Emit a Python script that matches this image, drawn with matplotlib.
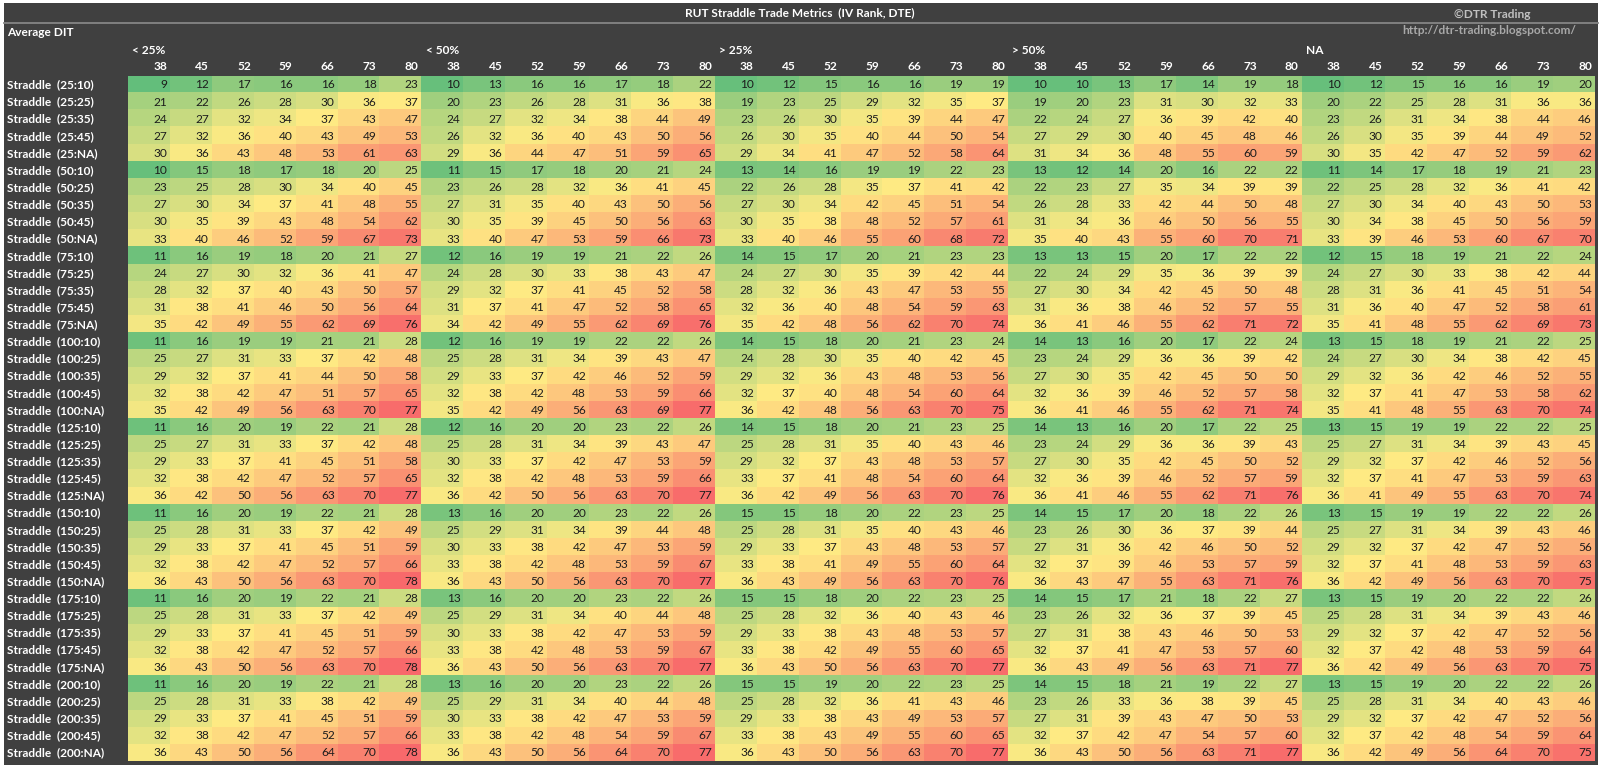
import numpy as np
import matplotlib.pyplot as plt
from matplotlib.colors import LinearSegmentedColormap, TwoSlopeNorm
from matplotlib.patches import Rectangle
from matplotlib.lines import Line2D
import matplotlib.transforms as mtransforms

plt.rcParams['font.family'] = ['Lato', 'DejaVu Sans']

# ---- data -------------------------------------------------------------
iv_groups = ['< 25%', '< 50%', '> 25%', '> 50%', 'NA']
dte = [38, 45, 52, 59, 66, 73, 80]
row_labels = [f'Straddle  ({a}:{b})' for a in [25, 50, 75, 100, 125, 150, 175, 200]
              for b in ['10', '25', '35', '45', 'NA']]

lt25 = [
    [9, 12, 17, 16, 16, 18, 23], [21, 22, 26, 28, 30, 36, 37], [24, 27, 32, 34, 37, 43, 47],
    [27, 32, 36, 40, 43, 49, 53], [30, 36, 43, 48, 53, 61, 63],
    [10, 15, 18, 17, 18, 20, 25], [23, 25, 28, 30, 34, 40, 45], [27, 30, 34, 37, 41, 48, 55],
    [30, 35, 39, 43, 48, 54, 62], [33, 40, 46, 52, 59, 67, 73],
    [11, 16, 19, 18, 20, 21, 27], [24, 27, 30, 32, 36, 41, 47], [28, 32, 37, 40, 43, 50, 57],
    [31, 38, 41, 46, 50, 56, 64], [35, 42, 49, 55, 62, 69, 76],
    [11, 16, 19, 19, 21, 21, 28], [25, 27, 31, 33, 37, 42, 48], [29, 32, 37, 41, 44, 50, 58],
    [32, 38, 42, 47, 51, 57, 65], [35, 42, 49, 56, 63, 70, 77],
    [11, 16, 20, 19, 22, 21, 28], [25, 27, 31, 33, 37, 42, 48], [29, 33, 37, 41, 45, 51, 58],
    [32, 38, 42, 47, 52, 57, 65], [36, 42, 50, 56, 63, 70, 77],
    [11, 16, 20, 19, 22, 21, 28], [25, 28, 31, 33, 37, 42, 49], [29, 33, 37, 41, 45, 51, 59],
    [32, 38, 42, 47, 52, 57, 66], [36, 43, 50, 56, 63, 70, 78],
    [11, 16, 20, 19, 22, 21, 28], [25, 28, 31, 33, 37, 42, 49], [29, 33, 37, 41, 45, 51, 59],
    [32, 38, 42, 47, 52, 57, 66], [36, 43, 50, 56, 63, 70, 78],
    [11, 16, 20, 19, 22, 21, 28], [25, 28, 31, 33, 38, 42, 49], [29, 33, 37, 41, 45, 51, 59],
    [32, 38, 42, 47, 52, 57, 66], [36, 43, 50, 56, 64, 70, 78],
]

lt50 = [
    [10, 13, 16, 16, 17, 18, 22], [20, 23, 26, 28, 31, 36, 38], [24, 27, 32, 34, 38, 44, 49],
    [26, 32, 36, 40, 43, 50, 56], [29, 36, 44, 47, 51, 59, 65],
    [11, 15, 17, 18, 20, 21, 24], [23, 26, 28, 32, 36, 41, 45], [27, 31, 35, 40, 43, 50, 56],
    [30, 35, 39, 45, 50, 56, 63], [33, 40, 47, 53, 59, 66, 73],
    [12, 16, 19, 19, 21, 22, 26], [24, 28, 30, 33, 38, 43, 47], [29, 32, 37, 41, 45, 52, 58],
    [31, 37, 41, 47, 52, 58, 65], [34, 42, 49, 55, 62, 69, 76],
    [12, 16, 19, 19, 22, 22, 26], [25, 28, 31, 34, 39, 43, 47], [29, 33, 37, 42, 46, 52, 59],
    [32, 38, 42, 48, 53, 59, 66], [35, 42, 49, 56, 63, 69, 77],
    [12, 16, 20, 20, 23, 22, 26], [25, 28, 31, 34, 39, 43, 47], [30, 33, 37, 42, 47, 53, 59],
    [32, 38, 42, 48, 53, 59, 66], [36, 42, 50, 56, 63, 70, 77],
    [13, 16, 20, 20, 23, 22, 26], [25, 29, 31, 34, 39, 44, 48], [30, 33, 38, 42, 47, 53, 59],
    [33, 38, 42, 48, 53, 59, 67], [36, 43, 50, 56, 63, 70, 77],
    [13, 16, 20, 20, 23, 22, 26], [25, 29, 31, 34, 40, 44, 48], [30, 33, 38, 42, 47, 53, 59],
    [33, 38, 42, 48, 53, 59, 67], [36, 43, 50, 56, 63, 70, 77],
    [13, 16, 20, 20, 23, 22, 26], [25, 29, 31, 34, 40, 44, 48], [30, 33, 38, 42, 47, 53, 59],
    [33, 38, 42, 48, 54, 59, 67], [36, 43, 50, 56, 64, 70, 77],
]

gt25 = [
    [10, 12, 15, 16, 16, 19, 19], [19, 23, 25, 29, 32, 35, 37], [23, 26, 30, 35, 39, 44, 47],
    [26, 30, 35, 40, 44, 50, 54], [29, 34, 41, 47, 52, 58, 64],
    [13, 14, 16, 19, 19, 22, 23], [22, 26, 28, 35, 37, 41, 42], [27, 30, 34, 42, 45, 51, 54],
    [30, 35, 38, 48, 52, 57, 61], [33, 40, 46, 55, 60, 68, 72],
    [14, 15, 17, 20, 21, 23, 23], [24, 27, 30, 35, 39, 42, 44], [28, 32, 36, 43, 47, 53, 55],
    [32, 36, 40, 48, 54, 59, 63], [35, 42, 48, 56, 62, 70, 74],
    [14, 15, 18, 20, 21, 23, 24], [24, 28, 30, 35, 40, 42, 45], [29, 32, 36, 43, 48, 53, 56],
    [32, 37, 40, 48, 54, 60, 64], [36, 42, 48, 56, 63, 70, 75],
    [14, 15, 18, 20, 21, 23, 25], [25, 28, 31, 35, 40, 43, 46], [29, 32, 37, 43, 48, 53, 57],
    [33, 37, 41, 48, 54, 60, 64], [36, 42, 49, 56, 63, 70, 76],
    [15, 15, 18, 20, 22, 23, 25], [25, 28, 31, 35, 40, 43, 46], [29, 33, 37, 43, 48, 53, 57],
    [33, 38, 41, 49, 55, 60, 64], [36, 43, 49, 56, 63, 70, 76],
    [15, 15, 18, 20, 22, 23, 25], [25, 28, 32, 36, 40, 43, 46], [29, 33, 38, 43, 48, 53, 57],
    [33, 38, 42, 49, 55, 60, 65], [36, 43, 50, 56, 63, 70, 77],
    [15, 15, 19, 20, 22, 23, 25], [25, 28, 32, 36, 41, 43, 46], [29, 33, 38, 43, 49, 53, 57],
    [33, 38, 43, 49, 55, 60, 65], [36, 43, 50, 56, 63, 70, 77],
]

gt50 = [
    [10, 10, 13, 17, 14, 19, 18], [19, 20, 23, 31, 30, 32, 33], [22, 24, 27, 36, 39, 42, 40],
    [27, 29, 30, 40, 45, 48, 46], [31, 34, 36, 48, 55, 60, 59],
    [13, 12, 14, 20, 16, 22, 22], [22, 23, 27, 35, 34, 39, 39], [26, 28, 33, 42, 44, 50, 48],
    [31, 34, 36, 46, 50, 56, 55], [35, 40, 43, 55, 60, 70, 71],
    [13, 13, 15, 20, 17, 22, 22], [22, 24, 29, 35, 36, 39, 39], [27, 30, 34, 42, 45, 50, 48],
    [31, 36, 38, 46, 52, 57, 55], [36, 41, 46, 55, 62, 71, 72],
    [14, 13, 16, 20, 17, 22, 24], [23, 24, 29, 36, 36, 39, 42], [27, 30, 35, 42, 45, 50, 50],
    [32, 36, 39, 46, 52, 57, 58], [36, 41, 46, 55, 62, 71, 74],
    [14, 13, 16, 20, 17, 22, 25], [23, 24, 29, 36, 36, 39, 43], [27, 30, 35, 42, 45, 50, 52],
    [32, 36, 39, 46, 52, 57, 59], [36, 41, 46, 55, 62, 71, 76],
    [14, 15, 17, 20, 18, 22, 26], [23, 26, 30, 36, 37, 39, 44], [27, 31, 36, 42, 46, 50, 52],
    [32, 37, 39, 46, 53, 57, 59], [36, 43, 47, 55, 63, 71, 76],
    [14, 15, 17, 21, 18, 22, 27], [23, 26, 32, 36, 37, 39, 45], [27, 31, 38, 43, 46, 50, 53],
    [32, 37, 41, 47, 53, 57, 60], [36, 43, 49, 56, 63, 71, 77],
    [14, 15, 18, 21, 19, 22, 27], [23, 26, 33, 36, 38, 39, 45], [27, 31, 39, 43, 47, 50, 53],
    [32, 37, 42, 47, 54, 57, 60], [36, 43, 50, 56, 63, 71, 77],
]

na_rank = [
    [10, 12, 15, 16, 16, 19, 20], [20, 22, 25, 28, 31, 36, 36], [23, 26, 31, 34, 38, 44, 46],
    [26, 30, 35, 39, 44, 49, 52], [30, 35, 42, 47, 52, 59, 62],
    [11, 14, 17, 18, 19, 21, 23], [22, 25, 28, 32, 36, 41, 42], [27, 30, 34, 40, 43, 50, 53],
    [30, 34, 38, 45, 50, 56, 59], [33, 39, 46, 53, 60, 67, 70],
    [12, 15, 18, 19, 21, 22, 24], [24, 27, 30, 33, 38, 42, 44], [28, 31, 36, 41, 45, 51, 54],
    [31, 36, 40, 47, 52, 58, 61], [35, 41, 48, 55, 62, 69, 73],
    [13, 15, 18, 19, 21, 22, 25], [24, 27, 30, 34, 38, 42, 45], [29, 32, 36, 42, 46, 52, 55],
    [32, 37, 41, 47, 53, 58, 62], [35, 41, 48, 55, 63, 70, 74],
    [13, 15, 19, 19, 22, 22, 25], [25, 27, 31, 34, 39, 43, 45], [29, 32, 37, 42, 46, 52, 56],
    [32, 37, 41, 47, 53, 59, 63], [36, 41, 49, 55, 63, 70, 74],
    [13, 15, 19, 19, 22, 22, 26], [25, 27, 31, 34, 39, 43, 46], [29, 32, 37, 42, 47, 52, 56],
    [32, 37, 41, 48, 53, 59, 63], [36, 42, 49, 56, 63, 70, 75],
    [13, 15, 19, 20, 22, 22, 26], [25, 28, 31, 34, 39, 43, 46], [29, 32, 37, 42, 47, 52, 56],
    [32, 37, 42, 48, 53, 59, 64], [36, 42, 49, 56, 63, 70, 75],
    [13, 15, 19, 20, 22, 22, 26], [25, 28, 31, 34, 40, 43, 46], [29, 32, 37, 42, 47, 52, 56],
    [32, 37, 42, 48, 54, 59, 64], [36, 42, 49, 56, 64, 70, 75],
]

# ---- layout helpers (pixel -> figure fraction) -----------------------
W, H = 1600, 765
def fx(x):
    return x / W
def fy(y):
    return 1 - y / H

BG = '#404040'
FS = 8.6
data = np.hstack([np.array(g) for g in [lt25, lt50, gt25, gt50, na_rank]])
n_rows, n_cols = data.shape

fig = plt.figure(figsize=(W / 100, H / 100), dpi=100, facecolor='white')
fig.patches.append(Rectangle((fx(4), 0), fx(1598) - fx(4), fy(3), transform=fig.transFigure,
                             facecolor=BG, edgecolor='none', zorder=-10))
fig.lines.append(Line2D([fx(4), fx(1598)], [fy(22.5), fy(22.5)], transform=fig.transFigure,
                        color='#858585', lw=1.3, zorder=-5))

# excel style 3-colour scale: green - yellow (median) - red
cmap = LinearSegmentedColormap.from_list('excel', ['#63BE7B', '#FFEB84', '#F8696B'])
norm = TwoSlopeNorm(vmin=data.min(), vcenter=np.percentile(data, 50), vmax=data.max())

top, bottom = 75.5, 760.6
ax = fig.add_axes([fx(128), fy(bottom), fx(1595) - fx(128), (bottom - top) / H])
ax.set_zorder(5)
ax.imshow(data, cmap=cmap, norm=norm, aspect='auto', interpolation='nearest')
ax.axis('off')

for i in range(n_rows):
    for j in range(n_cols):
        ax.text(j + 0.43, i + 0.05, str(data[i, j]), ha='right', va='center',
                fontsize=FS, color='#1c1c1c')

# column headers
for j in range(n_cols):
    ax.text(j + 0.43, -1.0, str(dte[j % len(dte)]), ha='right', va='center',
            fontsize=FS, color='white', fontweight='bold', clip_on=False)
for g, name in enumerate(iv_groups):
    ax.text(g * len(dte) - 0.4, -1.98, name, ha='left', va='center',
            fontsize=FS, color='white', fontweight='bold', clip_on=False)

# row labels
trans = mtransforms.blended_transform_factory(fig.transFigure, ax.transData)
for i, lab in enumerate(row_labels):
    ax.text(fx(7), i + 0.05, lab, transform=trans, ha='left', va='center',
            fontsize=FS, color='white', fontweight='bold', clip_on=False)

fig.text(fx(7), fy(33), 'Average DIT', ha='left', va='center', fontsize=FS,
         color='white', fontweight='bold')
fig.text(0.5, fy(13), 'RUT Straddle Trade Metrics  (IV Rank, DTE)', ha='center', va='center',
         fontsize=FS, color='white', fontweight='bold')
fig.text(fx(1454), fy(14), '\u00a9DTR Trading', ha='left', va='center', fontsize=FS,
         color='#c0c0c0', fontweight='bold')
fig.text(fx(1576), fy(31), 'http://dtr-trading.blogspot.com/', ha='right', va='center',
         fontsize=FS, color='#a8a8a8', fontweight='bold')

fig.savefig('out.png', dpi=100, facecolor=fig.get_facecolor())
